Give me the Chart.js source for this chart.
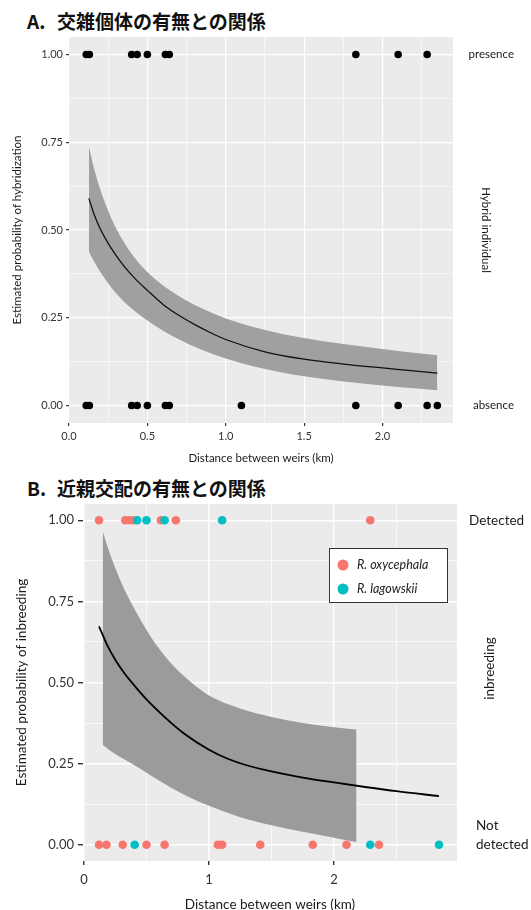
<!DOCTYPE html>
<html>
<head>
<meta charset="utf-8">
<script src="https://cdn.jsdelivr.net/npm/chart.js@4.4.1/dist/chart.umd.min.js"></script>
<style>
html, body { margin: 0; padding: 0; background: #fff; overflow: hidden; }
body { width: 531px; height: 910px; position: relative; }
.ttl { position: absolute; left: 27px; font-family: "Noto Sans CJK JP", sans-serif; font-weight: 700;
       font-size: 19px; line-height: 24px; color: #111; white-space: nowrap; }
.ttl .lt { display: inline-block; width: 30px; }
#wa { position: absolute; left: 0; top: 0; }
#wb { position: absolute; left: 0; top: 470px; }
</style>
</head>
<body>
<div class="ttl" style="top:9px"><span class="lt">A.</span>交雑個体の有無との関係</div>
<div class="ttl" style="top:476px"><span class="lt">B.</span>近親交配の有無との関係</div>
<div id="wa"><canvas id="ca" width="531" height="470"></canvas></div>
<div id="wb"><canvas id="cb" width="531" height="443"></canvas></div>
<script>
// ---------- Panel A: hybrid individuals vs. distance between weirs ----------
const hybridPresentKm = [0.11, 0.13, 0.40, 0.435, 0.50, 0.615, 0.64, 1.83, 2.10, 2.285];
const hybridAbsentKm  = [0.11, 0.13, 0.40, 0.435, 0.50, 0.615, 0.64, 1.10, 1.83, 2.10, 2.285, 2.35];

const hybridFitKm   = [0.127, 0.16, 0.20, 0.25, 0.30, 0.35, 0.42, 0.50, 0.60, 0.70, 0.80, 0.90, 1.00, 1.25, 1.50, 1.75, 2.00, 2.20, 2.35];
const hybridFitProb = [0.590, 0.545, 0.503, 0.462, 0.428, 0.398, 0.362, 0.328, 0.288, 0.257, 0.231, 0.208, 0.188, 0.153, 0.132, 0.118, 0.107, 0.0985, 0.092];

const hybridBandKm    = [0.127, 0.16, 0.20, 0.25, 0.30, 0.40, 0.50, 0.60, 0.70, 0.85, 1.00, 1.25, 1.50, 1.75, 2.00, 2.20, 2.35];
const hybridBandUpper = [0.738, 0.675, 0.615, 0.555, 0.505, 0.432, 0.380, 0.342, 0.312, 0.276, 0.248, 0.215, 0.192, 0.175, 0.161, 0.150, 0.143];
const hybridBandLower = [0.438, 0.410, 0.380, 0.348, 0.320, 0.276, 0.242, 0.213, 0.189, 0.158, 0.134, 0.104, 0.083, 0.068, 0.057, 0.049, 0.043];

const hybridXMajor  = [0, 0.5, 1, 1.5, 2];
const hybridXLabels = ['0.0', '0.5', '1.0', '1.5', '2.0'];
const hybridXMinor  = [0.25, 0.75, 1.25, 1.75, 2.25];
const hybridSideValues = [1, 0];
const hybridSideLabels = ['presence', 'absence'];

// ---------- Panel B: inbreeding vs. distance between weirs ----------
const oxyDetectedKm    = [0.12, 0.33, 0.36, 0.395, 0.615, 0.735, 2.29];
const oxyNotDetectedKm = [0.12, 0.18, 0.31, 0.50, 0.645, 1.07, 1.105, 1.41, 1.83, 2.10, 2.36];
const lagDetectedKm    = [0.425, 0.50, 0.645, 1.105];
const lagNotDetectedKm = [0.405, 2.29, 2.84];

const inbreedFitKm   = [0.12, 0.18, 0.25, 0.32, 0.40, 0.50, 0.65, 0.80, 1.00, 1.15, 1.30, 1.50, 1.75, 2.00, 2.25, 2.50, 2.84];
const inbreedFitProb = [0.673, 0.620, 0.570, 0.530, 0.492, 0.448, 0.392, 0.343, 0.293, 0.265, 0.245, 0.226, 0.207, 0.192, 0.178, 0.165, 0.150];

const inbreedBandKm    = [0.15, 0.20, 0.25, 0.30, 0.35, 0.42, 0.50, 0.60, 0.70, 0.85, 1.00, 1.25, 1.50, 1.75, 2.00, 2.18];
const inbreedBandUpper = [0.966, 0.905, 0.853, 0.806, 0.766, 0.715, 0.662, 0.605, 0.558, 0.503, 0.460, 0.420, 0.394, 0.375, 0.362, 0.355];
const inbreedBandLower = [0.308, 0.293, 0.280, 0.268, 0.257, 0.241, 0.222, 0.198, 0.175, 0.145, 0.120, 0.085, 0.060, 0.040, 0.022, 0.008];

const inbreedXMajor  = [0, 1, 2];
const inbreedXLabels = ['0', '1', '2'];
const inbreedXMinor  = [0.5, 1.5, 2.5];
const speciesNames   = ['R. oxycephala', 'R. lagowskii'];

// ---------- shared probability axis ----------
const probMajor  = [0, 0.25, 0.5, 0.75, 1];
const probLabels = ['0.00', '0.25', '0.50', '0.75', '1.00'];
const probMinor  = [0.125, 0.375, 0.625, 0.875];

const OXY = '#F8766D', LAG = '#00BFC4';

Chart.defaults.font.family = 'Lato, "DejaVu Sans", sans-serif';
Chart.defaults.animation = false;

const pts = (xs, y) => xs.map(x => ({ x, y }));
const zip = (xs, ys) => xs.map((x, i) => ({ x, y: ys[i] }));
const isMajor = (arr, c) => !!(c.tick && arr.includes(c.tick.value));

function axis(o) {
  return {
    type: 'linear', position: o.position, min: o.min, max: o.max, bounds: 'data',
    afterBuildTicks: s => {
      s.ticks = o.major.concat(o.minor).sort((a, b) => a - b).map(v => ({ value: v }));
    },
    afterFit: s => { if (o.position === 'left') s.width = o.size; else s.height = o.size; },
    border: { display: false },
    grid: {
      color: '#ffffff',
      lineWidth: c => isMajor(o.major, c) ? o.majorW : o.minorW,
      tickColor: c => isMajor(o.major, c) ? '#333333' : 'rgba(0,0,0,0)',
      tickLength: o.tl, drawTicks: true
    },
    ticks: {
      autoSkip: false, maxRotation: 0, padding: o.pad, color: '#333333',
      font: { size: o.fs },
      callback: v => { const k = o.major.indexOf(v); return k >= 0 ? o.labels[k] : ''; }
    },
    title: {
      display: true, text: o.title, color: '#1a1a1a', font: { size: o.tfs },
      padding: o.position === 'left' ? { top: o.tpad, bottom: 0 } : { top: 0, bottom: o.tpad }
    }
  };
}

const panelBg = {
  id: 'panelBg',
  beforeDraw(chart) {
    const { ctx, chartArea: c } = chart;
    ctx.save();
    ctx.fillStyle = '#EBEBEB';
    ctx.fillRect(c.left, c.top, c.width, c.height);
    ctx.restore();
  }
};

// category names and title on the right-hand side of a panel
const sideText = {
  id: 'sideText',
  afterDraw(chart, args, o) {
    const { ctx, chartArea: c, scales: { y } } = chart;
    ctx.save();
    ctx.fillStyle = '#1a1a1a';
    ctx.font = `${o.fs}px Lato, sans-serif`;
    ctx.textBaseline = 'middle';
    o.items.forEach(it => {
      ctx.textAlign = it.align;
      const base = y.getPixelForValue(it.value);
      const n = it.lines.length;
      it.lines.forEach((ln, k) => ctx.fillText(ln, c.right + it.dx, base + (k - (n - 1)) * o.lh));
    });
    ctx.translate(c.right + o.titleDx, (c.top + c.bottom) / 2 + o.titleDy);
    ctx.rotate(o.angle);
    ctx.textAlign = 'center';
    ctx.font = `${o.tfs}px Lato, sans-serif`;
    ctx.fillText(o.title, 0, 0);
    ctx.restore();
  }
};

// boxed species key inside panel B
const speciesKey = {
  id: 'speciesKey',
  afterDraw(chart, args, o) {
    const { ctx, chartArea: c } = chart;
    const x0 = c.right - o.right - o.w, y0 = c.top + o.top;
    ctx.save();
    ctx.fillStyle = '#ffffff';
    ctx.fillRect(x0, y0, o.w, o.h);
    ctx.strokeStyle = '#333333';
    ctx.lineWidth = 1;
    ctx.strokeRect(x0 + 0.5, y0 + 0.5, o.w, o.h);
    ctx.font = 'italic 12.5px Lato, sans-serif';
    ctx.textBaseline = 'middle';
    ctx.textAlign = 'left';
    o.items.forEach((it, i) => {
      const yy = y0 + 17 + i * 24;
      ctx.beginPath();
      ctx.arc(x0 + 14, yy, 5.5, 0, Math.PI * 2);
      ctx.fillStyle = it.color;
      ctx.fill();
      ctx.fillStyle = '#222';
      ctx.fillText(it.label, x0 + 28, yy);
    });
    ctx.restore();
  }
};

const curve = (data, color, w) => ({
  data, borderColor: color, borderWidth: w, pointRadius: 0, fill: false,
  cubicInterpolationMode: 'monotone'
});
const bandEdge = (data, fill, bg) => ({
  data, borderColor: 'rgba(0,0,0,0)', borderWidth: 1, pointRadius: 0, fill, backgroundColor: bg,
  cubicInterpolationMode: 'monotone'
});
const dots = (data, color, r) => ({
  data, showLine: false, pointRadius: r, pointBackgroundColor: color, pointBorderWidth: 0,
  borderColor: color, backgroundColor: color
});

// ---------- Chart A ----------
new Chart(document.getElementById('ca'), {
  type: 'line',
  data: {
    datasets: [
      dots(pts(hybridPresentKm, 1), '#000', 3.8),
      dots(pts(hybridAbsentKm, 0), '#000', 3.8),
      curve(zip(hybridFitKm, hybridFitProb), '#111', 1.3),
      bandEdge(zip(hybridBandKm, hybridBandUpper), false, 'rgba(0,0,0,0)'),
      bandEdge(zip(hybridBandKm, hybridBandLower), '-1', '#a0a0a0')
    ]
  },
  options: {
    responsive: false, events: [],
    layout: { padding: { top: 37, right: 78, left: 0, bottom: 0 } },
    plugins: {
      legend: { display: false }, tooltip: { enabled: false },
      sideText: {
        fs: 11.5, tfs: 11.5, lh: 14, titleDx: 33, titleDy: 0, angle: Math.PI / 2,
        title: 'Hybrid individual',
        items: hybridSideValues.map((v, i) => ({ value: v, lines: [hybridSideLabels[i]], align: 'right', dx: 61 }))
      }
    },
    scales: {
      x: axis({ position: 'bottom', min: 0, max: 2.45, major: hybridXMajor, minor: hybridXMinor,
                labels: hybridXLabels, size: 47, tl: 3, pad: 4, fs: 11, majorW: 1.2, minorW: 0.6,
                title: 'Distance between weirs (km)', tfs: 11.5, tpad: 5 }),
      y: axis({ position: 'left', min: -0.05, max: 1.05, major: probMajor, minor: probMinor,
                labels: probLabels, size: 69, tl: 3, pad: 3, fs: 11, majorW: 1.2, minorW: 0.6,
                title: 'Estimated probability of hybridization', tfs: 11.5, tpad: 10.6 })
    }
  },
  plugins: [panelBg, sideText]
});

// ---------- Chart B ----------
new Chart(document.getElementById('cb'), {
  type: 'line',
  data: {
    datasets: [
      dots(pts(lagDetectedKm, 1), LAG, 4.3),
      dots(pts(lagNotDetectedKm, 0), LAG, 4.3),
      dots(pts(oxyDetectedKm, 1), OXY, 4.3),
      dots(pts(oxyNotDetectedKm, 0), OXY, 4.3),
      curve(zip(inbreedFitKm, inbreedFitProb), '#000', 1.8),
      bandEdge(zip(inbreedBandKm, inbreedBandUpper), false, 'rgba(0,0,0,0)'),
      bandEdge(zip(inbreedBandKm, inbreedBandLower), '-1', '#9b9b9b')
    ]
  },
  options: {
    responsive: false, events: [],
    layout: { padding: { top: 34, right: 74, left: 0, bottom: 0 } },
    plugins: {
      legend: { display: false }, tooltip: { enabled: false },
      sideText: {
        fs: 13.5, tfs: 13.5, lh: 19, titleDx: 33, titleDy: -14, angle: -Math.PI / 2,
        title: 'inbreeding',
        items: [
          { value: 1, lines: ['Detected'], align: 'left', dx: 12 },
          { value: 0, lines: ['Not', 'detected'], align: 'left', dx: 19 }
        ]
      },
      speciesKey: {
        right: 10, top: 44, w: 118, h: 54,
        items: [{ label: speciesNames[0], color: OXY }, { label: speciesNames[1], color: LAG }]
      }
    },
    scales: {
      x: axis({ position: 'bottom', min: -0.008, max: 2.984, major: inbreedXMajor, minor: inbreedXMinor,
                labels: inbreedXLabels, size: 52, tl: 4, pad: 7, fs: 13, majorW: 1.4, minorW: 0.7,
                title: 'Distance between weirs (km)', tfs: 13.5, tpad: 0 }),
      y: axis({ position: 'left', min: -0.05, max: 1.05, major: probMajor, minor: probMinor,
                labels: probLabels, size: 83, tl: 5, pad: 4, fs: 13, majorW: 1.4, minorW: 0.7,
                title: 'Estimated probability of inbreeding', tfs: 13.5, tpad: 14 })
    }
  },
  plugins: [panelBg, sideText, speciesKey]
});
</script>
</body>
</html>
